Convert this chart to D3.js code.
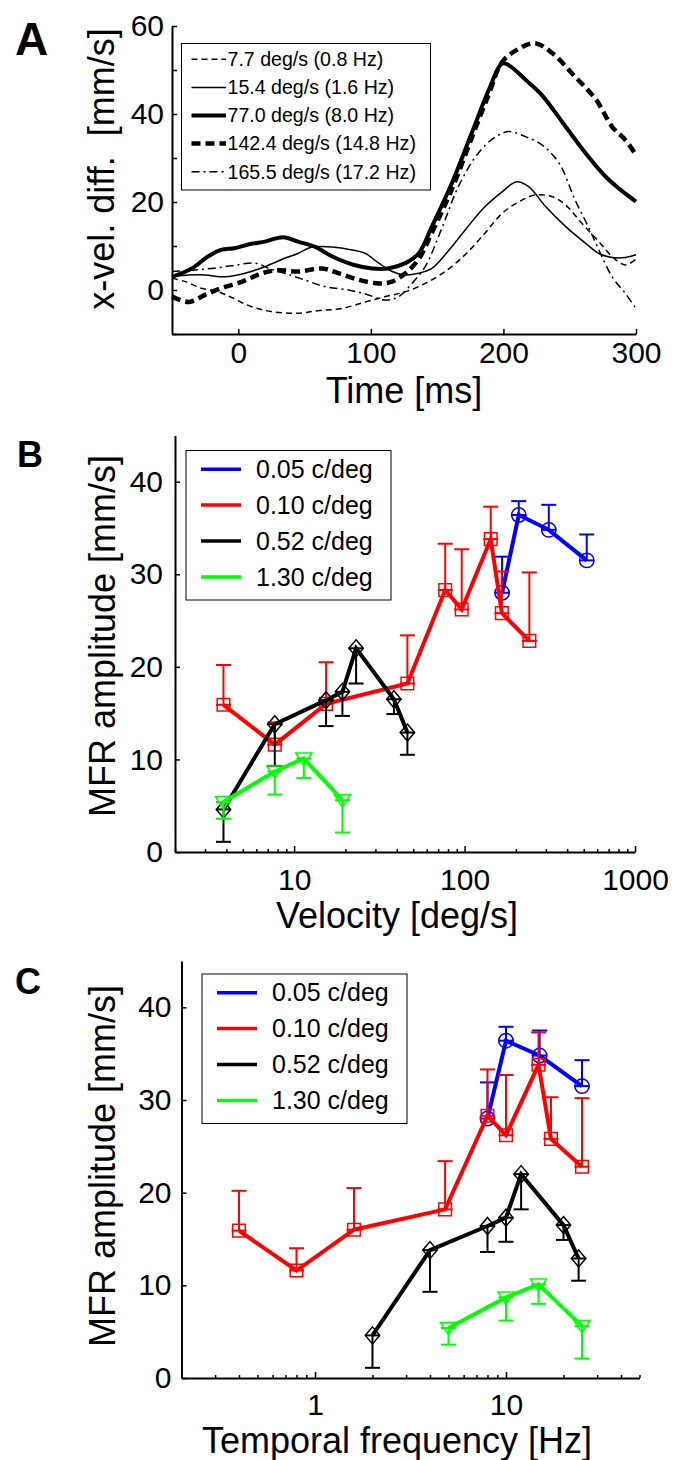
<!DOCTYPE html>
<html>
<head>
<meta charset="utf-8">
<script src="https://cdn.jsdelivr.net/npm/d3@7"></script>
<style>
body { margin: 0; background: #fff; }
text { font-family: "Liberation Sans", Arial, sans-serif; fill: #000; }
</style>
</head>
<body>
<div id="fig"></div>
<script>
// ---- panel A: x-velocity difference traces ----
var labelsA = ["7.7 deg/s (0.8 Hz)", "15.4 deg/s (1.6 Hz)", "77.0 deg/s (8.0 Hz)",
               "142.4 deg/s (14.8 Hz)", "165.5 deg/s (17.2 Hz)"];

var t7 = [-50,-40,-28,-15,-5,10,25,45,60,78,96,111,126,141,156,171,186,199,212,224,237,247,259,272,282,292,300];
var v7 = [2.7,1.9,0.4,-0.4,-1.7,-3.8,-4.9,-5.3,-4.7,-4.2,-2.7,-1.5,-0.4,1.5,4.2,8.0,12.9,17.4,20.1,21.6,21.2,19.3,15.2,11.0,7.6,5.7,7.0];

var t15 = [-50,-37,-25,-10,5,20,35,45,55,71,86,96,106,116,126,136,146,159,171,186,199,210,219,232,247,262,272,282,292,300];
var v15 = [3.0,3.4,3.4,3.0,3.8,5.3,7.2,8.3,9.7,9.8,9.1,8.3,6.1,4.2,3.4,3.8,4.9,9.1,13.6,18.9,22.3,24.6,23.5,18.9,14.4,10.6,8.3,7.4,7.4,8.0];

var t77 = [-50,-35,-23,-13,-3,10,20,34,45,58,71,86,101,113,126,136,146,161,176,189,199,204,217,229,247,262,277,287,300];
var v77 = [3.0,4.9,7.6,9.1,9.5,10.5,11.0,12.0,11.0,9.8,7.6,5.8,4.9,4.9,6.1,8.3,14.4,24.2,35.6,45.5,51.5,51.1,47.7,44.3,37.1,31.1,25.8,23.1,20.1];

var t142 = [-50,-37,-25,-13,3,18,30,45,63,76,91,106,116,126,136,146,161,176,189,199,212,224,237,254,270,282,292,300];
var v142 = [-1.5,-2.7,-1.1,0.4,1.9,3.8,4.5,4.2,4.9,3.8,2.3,1.5,1.9,3.8,7.0,13.0,22.8,34.5,44.5,51.8,54.9,56.1,53.8,48.5,43.2,37.1,34.1,30.7];

var t165 = [-50,-35,-20,-5,13,23,35,50,65,83,96,111,121,131,141,154,166,181,194,204,217,229,242,254,264,272,282,292,300];
var v165 = [4.2,4.5,4.9,5.5,6.1,4.9,3.8,2.3,0.8,0.0,-0.9,-2.3,-1.5,1.5,5.3,14.4,23.5,31.1,34.8,36.0,34.8,33.0,28.8,20.5,14.4,9.1,3.0,-0.8,-4.2];

// ---- panels B and C: MFR amplitude vs velocity / temporal frequency ----
var sfLabels = ["0.05 c/deg", "0.10 c/deg", "0.52 c/deg", "1.30 c/deg"];

var velBlue = [166, 208, 312, 521];
var tfBlue  = [8, 10, 15, 25];
var ampBlue = [28.0, 36.4, 34.8, 31.5];
var errBlue = [31.9, 37.9, 37.5, 34.3];

var velRed = [3.85, 7.7, 15.4, 46.2, 77.0, 96.2, 142.4, 165.5, 240];
var tfRed  = [0.4, 0.8, 1.6, 4.8, 8.0, 10.0, 14.8, 17.2, 25.0];
var ampRed = [15.9, 11.6, 16.0, 18.2, 28.3, 26.2, 33.8, 25.8, 22.8];
var errRed = [20.2, 14.0, 20.5, 23.4, 33.3, 32.7, 37.3, 30.3, 30.2];

var velBlack = [3.85, 7.7, 15.4, 19.2, 23.1, 38.5, 46.2];
var tfBlack  = [2, 4, 8, 10, 12, 20, 24];
var ampBlack = [4.6, 13.8, 16.4, 17.3, 22.0, 16.5, 12.9];
var errBlack = [1.1, 9.3, 13.6, 14.7, 18.2, 14.9, 10.5];

var velGreen = [3.85, 7.7, 11.4, 19.2];
var tfGreen  = [5, 10, 14.8, 25];
var ampGreen = [5.4, 8.7, 10.1, 5.6];
var errGreen = [3.6, 6.2, 8.0, 2.1];

var svg = d3.select("#fig").append("svg")
    .attr("width", 676)
    .attr("height", 1460);

function styleAxis(g) {
  g.attr("font-family", null).attr("font-size", null);
  g.select(".domain").attr("stroke-width", 2);
  g.selectAll(".tick line").attr("stroke-width", 1.5);
  g.selectAll(".tick text").attr("font-size", 30).attr("fill", "#000");
}

// ================= panel A =================
var xA = d3.scaleLinear().domain([-50, 300]).range([172, 636]);
var yA = d3.scaleLinear().domain([-10, 60]).range([334, 26]);

svg.append("g")
    .attr("transform", "translate(0,334)")
    .call(d3.axisBottom(xA).tickValues([0, 100, 200, 300])
      .tickSizeInner(-5).tickSizeOuter(0).tickPadding(8))
    .call(styleAxis);

svg.append("g")
    .attr("transform", "translate(172,0)")
    .call(d3.axisLeft(yA).tickValues(d3.range(-10, 61, 10))
      .tickFormat(function(d) { return (d >= 0 && d % 20 === 0) ? d : ""; })
      .tickSizeInner(-5).tickSizeOuter(0).tickPadding(8))
    .call(styleAxis);

var stylesA = [
  {w: 1.5, dash: "6,4"},
  {w: 1.5, dash: null},
  {w: 4, dash: null},
  {w: 4.5, dash: "9,5"},
  {w: 1.5, dash: "8,4,2,4"}
];
var tracesA = [[t7, v7], [t15, v15], [t77, v77], [t142, v142], [t165, v165]];

var lineA = d3.line()
    .x(function(d) { return xA(d[0]); })
    .y(function(d) { return yA(d[1]); })
    .curve(d3.curveCatmullRom.alpha(0.5));

tracesA.forEach(function(tr, i) {
  var pts = tr[0].map(function(t, j) { return [t, tr[1][j]]; });
  svg.append("path")
      .attr("d", lineA(pts))
      .attr("fill", "none")
      .attr("stroke", "#000")
      .attr("stroke-width", stylesA[i].w)
      .attr("stroke-dasharray", stylesA[i].dash);
});

// legend A
var legA = svg.append("g");
legA.append("rect")
    .attr("x", 181.5).attr("y", 43.5).attr("width", 249).attr("height", 146.5)
    .attr("fill", "#fff").attr("stroke", "#000").attr("stroke-width", 1);
labelsA.forEach(function(lab, i) {
  var yy = 59.3 + i * 28.1;
  legA.append("line")
      .attr("x1", 191.5).attr("x2", 226).attr("y1", yy).attr("y2", yy)
      .attr("stroke", "#000")
      .attr("stroke-width", stylesA[i].w)
      .attr("stroke-dasharray", stylesA[i].dash);
  legA.append("text")
      .attr("x", 227.5).attr("y", yy).attr("dy", "0.35em")
      .attr("font-size", 19.6).text(lab);
});

svg.append("text").attr("x", 404).attr("y", 403)
    .attr("text-anchor", "middle").attr("font-size", 36).text("Time [ms]");
svg.append("text").attr("transform", "translate(114,169) rotate(-90)")
    .attr("text-anchor", "middle").attr("font-size", 36)
    .attr("xml:space", "preserve").text("x-vel. diff.  [mm/s]");
svg.append("text").attr("x", 15).attr("y", 55)
    .attr("font-size", 46).attr("font-weight", "bold").text("A");

// ================= panels B and C =================
var colors = ["#0000ff", "#ff0000", "#000000", "#00ff00"];
var markers = ["circle", "square", "diamond", "triangle"];
var dataBC = [
  {vel: velBlue, tf: tfBlue, amp: ampBlue, err: errBlue},
  {vel: velRed, tf: tfRed, amp: ampRed, err: errRed},
  {vel: velBlack, tf: tfBlack, amp: ampBlack, err: errBlack},
  {vel: velGreen, tf: tfGreen, amp: ampGreen, err: errGreen}
];

function markerPath(type) {
  if (type === "square") return "M-6.3,-6.3H6.3V6.3H-6.3Z";
  if (type === "diamond") return "M0,-8.5L7.2,0L0,8.5L-7.2,0Z";
  if (type === "triangle") return "M-8,-5.5L8,-5.5L0,7Z";
  return "M-7.2,0A7.2,7.2 0 1,0 7.2,0A7.2,7.2 0 1,0 -7.2,0Z";
}

function logPanel(o) {
  var x = d3.scaleLog().domain(o.xDomain).range(o.xRange);
  var y = d3.scaleLinear().domain([0, 45]).range(o.yRange);
  var g = svg.append("g");

  var isMajor = function(d) { return Math.abs(Math.log10(d) - Math.round(Math.log10(d))) < 1e-6; };
  var xg = g.append("g")
      .attr("transform", "translate(0," + o.yRange[0] + ")")
      .call(d3.axisBottom(x).tickValues(x.ticks())
        .tickFormat(function(d) { return isMajor(d) ? d3.format("d")(d) : ""; })
        .tickSizeInner(-6).tickSizeOuter(0).tickPadding(o.xPad))
      .call(styleAxis);
  xg.selectAll(".tick line").attr("y2", function(d) { return isMajor(d) ? -6 : -3; });

  g.append("g")
      .attr("transform", "translate(" + o.xRange[0] + ",0)")
      .call(d3.axisLeft(y).tickValues([0, 10, 20, 30, 40])
        .tickSizeInner(-5).tickSizeOuter(0).tickPadding(o.yPad))
      .call(styleAxis);

  var line = d3.line()
      .x(function(d) { return x(d[0]); })
      .y(function(d) { return y(d[1]); });

  dataBC.forEach(function(s, i) {
    var xs = s[o.key];
    var pts = xs.map(function(v, j) { return [v, s.amp[j]]; });
    var sg = g.append("g").attr("stroke", colors[i]).attr("fill", "none");
    sg.append("path").attr("d", line(pts)).attr("stroke-width", 4);
    pts.forEach(function(p, j) {
      var px = x(p[0]), y0 = y(p[1]), y1 = y(s.err[j]);
      sg.append("line").attr("x1", px).attr("x2", px).attr("y1", y0).attr("y2", y1)
          .attr("stroke-width", 2);
      [y0, y1].forEach(function(yy) {
        sg.append("line").attr("x1", px - 7.5).attr("x2", px + 7.5)
            .attr("y1", yy).attr("y2", yy).attr("stroke-width", 2);
      });
      sg.append("path").attr("d", markerPath(markers[i]))
          .attr("transform", "translate(" + px + "," + y0 + ")")
          .attr("stroke-width", 1.5);
    });
  });

  // legend
  var lg = g.append("g");
  lg.append("rect").attr("x", o.leg[0]).attr("y", o.leg[1])
      .attr("width", 205).attr("height", 149.5)
      .attr("fill", "#fff").attr("stroke", "#000").attr("stroke-width", 1);
  sfLabels.forEach(function(lab, i) {
    var yy = o.leg[1] + 18.7 + i * 35.9;
    lg.append("line").attr("x1", o.leg[0] + 15).attr("x2", o.leg[0] + 55)
        .attr("y1", yy).attr("y2", yy)
        .attr("stroke", colors[i]).attr("stroke-width", 3.5);
    lg.append("text").attr("x", o.leg[0] + 70).attr("y", yy).attr("dy", "0.35em")
        .attr("font-size", 25).text(lab);
  });

  g.append("text").attr("x", o.xLabelPos[0]).attr("y", o.xLabelPos[1])
      .attr("text-anchor", "middle").attr("font-size", 36).text(o.xLabel);
  g.append("text").attr("transform", "translate(115," + o.yLabelMid + ") rotate(-90)")
      .attr("text-anchor", "middle").attr("font-size", 36).text("MFR amplitude [mm/s]");
  g.append("text").attr("x", o.letterPos[0]).attr("y", o.letterPos[1])
      .attr("font-size", 36).attr("font-weight", "bold").text(o.letter);
}

logPanel({
  key: "vel", xDomain: [2, 1000], xRange: [175, 635], yRange: [852, 435.4],
  xPad: 17, yPad: 12, leg: [186, 450.5],
  xLabel: "Velocity [deg/s]", xLabelPos: [397, 928], yLabelMid: 636,
  letter: "B", letterPos: [17, 467]
});

logPanel({
  key: "tf", xDomain: [0.2, 50], xRange: [181.5, 639.5], yRange: [1378, 961],
  xPad: 16, yPad: 10, leg: [202, 974],
  xLabel: "Temporal frequency [Hz]", xLabelPos: [397, 1453], yLabelMid: 1166,
  letter: "C", letterPos: [15, 994]
});
</script>
</body>
</html>
